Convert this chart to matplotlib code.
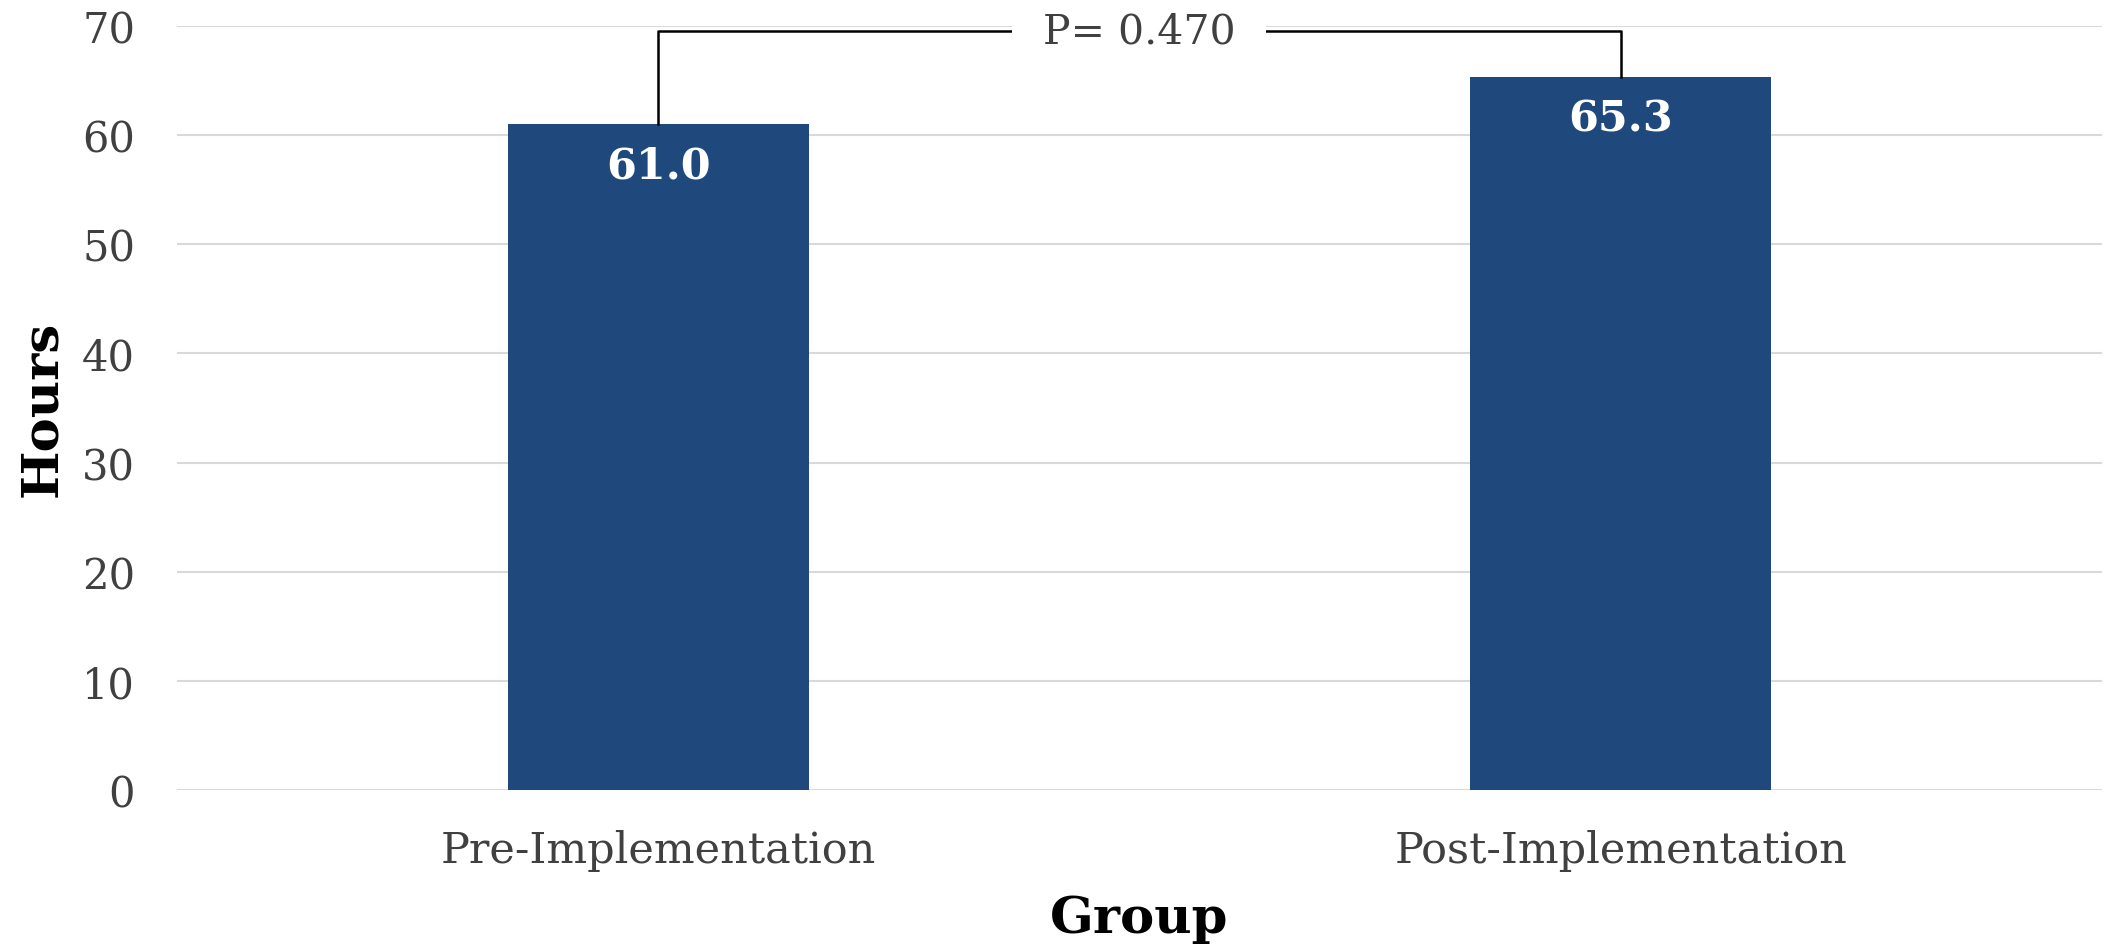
import matplotlib
matplotlib.use("Agg")
from matplotlib import pyplot as plt

groups = ["Pre-Implementation", "Post-Implementation"]
hours = [61.0, 65.3]
p_value = 0.470
y_ticks = [0, 10, 20, 30, 40, 50, 60, 70]

plt.rcParams["font.family"] = ["DejaVu Serif"]

fig = plt.figure(figsize=(21.06, 9.45), dpi=100)
ax = fig.add_axes([0.084, 0.163, 0.914, 0.8085])

x = list(range(len(groups)))
bars = ax.bar(x, hours, width=0.313, color="#1F497D", zorder=2)

# value labels inside the bars
for xi, h in zip(x, hours):
    ax.annotate(f"{h:.1f}", (xi, h), xytext=(0, -30), textcoords="offset points",
                ha="center", va="center", color="white", fontsize=31, fontweight="bold")

# significance bracket
bracket_y = 69.5
ax.plot([x[0], x[0], x[1], x[1]], [hours[0], bracket_y, bracket_y, hours[1]],
        color="black", lw=1.8, zorder=3, clip_on=False)
ax.text((x[0] + x[1]) / 2, bracket_y, f"P= {p_value:.3f}", ha="center", va="center",
        fontsize=29.5, color="#404040", zorder=4,
        bbox=dict(boxstyle="square,pad=0.75", fc="white", ec="none"))

ax.set_xlim(-0.5, 1.5)
ax.set_ylim(0, 70)
ax.set_yticks(y_ticks)
ax.set_xticks(x)
ax.set_xticklabels(groups)
ax.tick_params(axis="both", length=0, labelcolor="#404040")
ax.tick_params(axis="y", pad=30, labelsize=30)
ax.tick_params(axis="x", pad=28, labelsize=31)
ax.grid(axis="y", color="#D9D9D9", lw=1.5, zorder=0)
for s in ax.spines.values():
    s.set_visible(False)

ax.set_ylabel("Hours", fontsize=37, fontweight="bold", va="center")
ax.yaxis.set_label_coords(-0.0696, 0.5)
ax.set_xlabel("Group", fontsize=37, fontweight="bold", va="center")
ax.xaxis.set_label_coords(0.5, -0.168)

fig.savefig("out.png", dpi=100)
